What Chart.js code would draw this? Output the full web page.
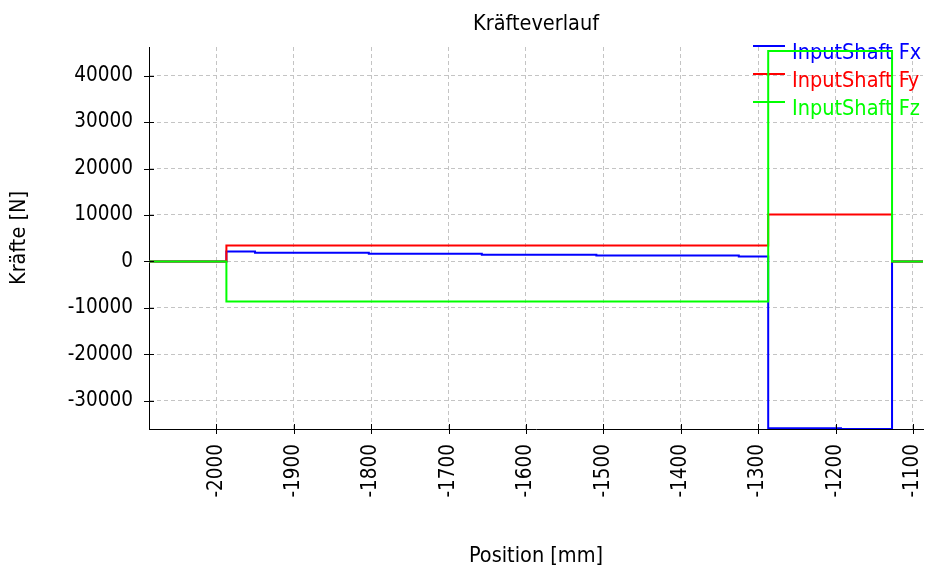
<!DOCTYPE html>
<html><head><meta charset="utf-8">
<script src="https://cdn.jsdelivr.net/npm/chart.js@4/dist/chart.umd.min.js"></script>
<style>html,body{margin:0;padding:0;background:#fff}#wrap{width:927px;height:570px;position:relative}</style>
</head><body><div id="wrap"><canvas id="c" width="927" height="570"></canvas></div>
<script>
// ---- data ----
const chartTitle = 'Kräfteverlauf';
const xAxisTitle = 'Position [mm]';
const yAxisTitle = 'Kräfte [N]';
const seriesNames = ['InputShaft Fx', 'InputShaft Fy', 'InputShaft Fz'];
const seriesColors = ['#0000ff', '#ff0000', '#00ff00'];

// step start positions (mm) and values (N); each value holds until the next position
const fxPositions = [-2087, -1987, -1950, -1803, -1657, -1509, -1325, -1287, -1193, -1127, -1087];
const fxValues    = [0, 2150, 1900, 1650, 1470, 1290, 1070, -35900, -36050, 0, 0];
const fyPositions = [-2087, -1987, -1287, -1127, -1087];
const fyValues    = [0, 3430, 10100, 0, 0];
const fzPositions = [-2087, -1987, -1287, -1127, -1087];
const fzValues    = [0, -8600, 45300, 0, 0];

const xTickValues = [-2000, -1900, -1800, -1700, -1600, -1500, -1400, -1300, -1200, -1100];
const yTickValues = [-30000, -20000, -10000, 0, 10000, 20000, 30000, 40000];
const xRange = [-2087, -1087];
const yRange = [-36050, 46150];

// ---- chart ----
const FONT = "'DejaVu Sans Condensed','DejaVu Sans',sans-serif";
Chart.defaults.font.family = FONT;
Chart.defaults.font.size = 20.5;
Chart.defaults.color = '#000';

const toPoints = (xs, ys) => xs.map((x, i) => ({x: x, y: ys[i]}));

const overlay = {
  id: 'overlay',
  beforeDatasetsDraw(chart) {
    const ctx = chart.ctx;
    const {left, right} = chart.chartArea;
    ctx.save();
    // title, centred over the plot area
    ctx.font = '21.5px ' + FONT;
    ctx.fillStyle = '#000';
    ctx.textAlign = 'center';
    ctx.textBaseline = 'alphabetic';
    ctx.fillText(chartTitle, (left + right) / 2, 30);
    // legend
    ctx.textAlign = 'left';
    seriesNames.forEach((name, i) => {
      const y = 46 + 28 * i;
      ctx.strokeStyle = seriesColors[i];
      ctx.lineWidth = 2;
      ctx.beginPath();
      ctx.moveTo(right - 170, y);
      ctx.lineTo(right - 138, y);
      ctx.stroke();
      ctx.fillStyle = seriesColors[i];
      ctx.fillText(name, right - 131, y + 12.5);
    });
    ctx.restore();
  },
  afterDraw(chart) {
    const ctx = chart.ctx;
    const {left, bottom} = chart.chartArea;
    const xs = chart.scales.x, ys = chart.scales.y;
    ctx.save();
    ctx.strokeStyle = '#000';
    ctx.lineWidth = 1;
    ctx.beginPath();
    xTickValues.forEach(v => {
      const p = Math.round(xs.getPixelForValue(v)) + 0.5;
      ctx.moveTo(p, bottom - 5); ctx.lineTo(p, bottom + 5);
    });
    yTickValues.forEach(v => {
      const p = Math.round(ys.getPixelForValue(v)) + 0.5;
      ctx.moveTo(left - 5, p); ctx.lineTo(left + 5, p);
    });
    ctx.stroke();
    ctx.restore();
  }
};

const gridOpts = {color: '#c4c4c4', lineWidth: 1, tickLength: 5, tickColor: 'rgba(0,0,0,0)', tickBorderDash: []};
const borderOpts = {display: true, color: '#000', width: 1, dash: [4, 3]};

new Chart(document.getElementById('c'), {
  type: 'line',
  data: {
    datasets: [
      {label: seriesNames[0], data: toPoints(fxPositions, fxValues), borderColor: seriesColors[0], order: 3},
      {label: seriesNames[1], data: toPoints(fyPositions, fyValues), borderColor: seriesColors[1], order: 2},
      {label: seriesNames[2], data: toPoints(fzPositions, fzValues), borderColor: seriesColors[2], order: 1}
    ]
  },
  options: {
    responsive: false,
    animation: false,
    devicePixelRatio: 1,
    layout: {padding: {left: 0, right: 4, top: 47, bottom: 0}},
    elements: {
      line: {borderWidth: 2, stepped: 'before', tension: 0, fill: false},
      point: {radius: 0, hoverRadius: 0}
    },
    plugins: {
      legend: {display: false},
      tooltip: {enabled: false},
      title: {display: false}
    },
    scales: {
      x: {
        type: 'linear', min: xRange[0], max: xRange[1],
        afterBuildTicks: s => { s.ticks = xTickValues.map(v => ({value: v})); },
        afterFit: s => { s.height = 141; s.paddingLeft = 0; s.paddingRight = 0; },
        ticks: {minRotation: 90, maxRotation: 90, autoSkip: false, padding: 10, color: '#000', callback: v => String(v)},
        grid: gridOpts, border: borderOpts,
        title: {display: true, text: xAxisTitle, color: '#000', font: {size: 21.5}, padding: {top: 0, bottom: 1}}
      },
      y: {
        type: 'linear', min: yRange[0], max: yRange[1],
        afterBuildTicks: s => { s.ticks = yTickValues.map(v => ({value: v})); },
        afterFit: s => { s.width = 149; s.paddingTop = 0; s.paddingBottom = 0; },
        ticks: {padding: 11, color: '#000', callback: v => String(v)},
        grid: gridOpts, border: borderOpts,
        title: {display: true, text: yAxisTitle, color: '#000', font: {size: 21.5}, padding: {top: 7, bottom: 0}}
      }
    }
  },
  plugins: [overlay]
});
</script>
</body></html>
